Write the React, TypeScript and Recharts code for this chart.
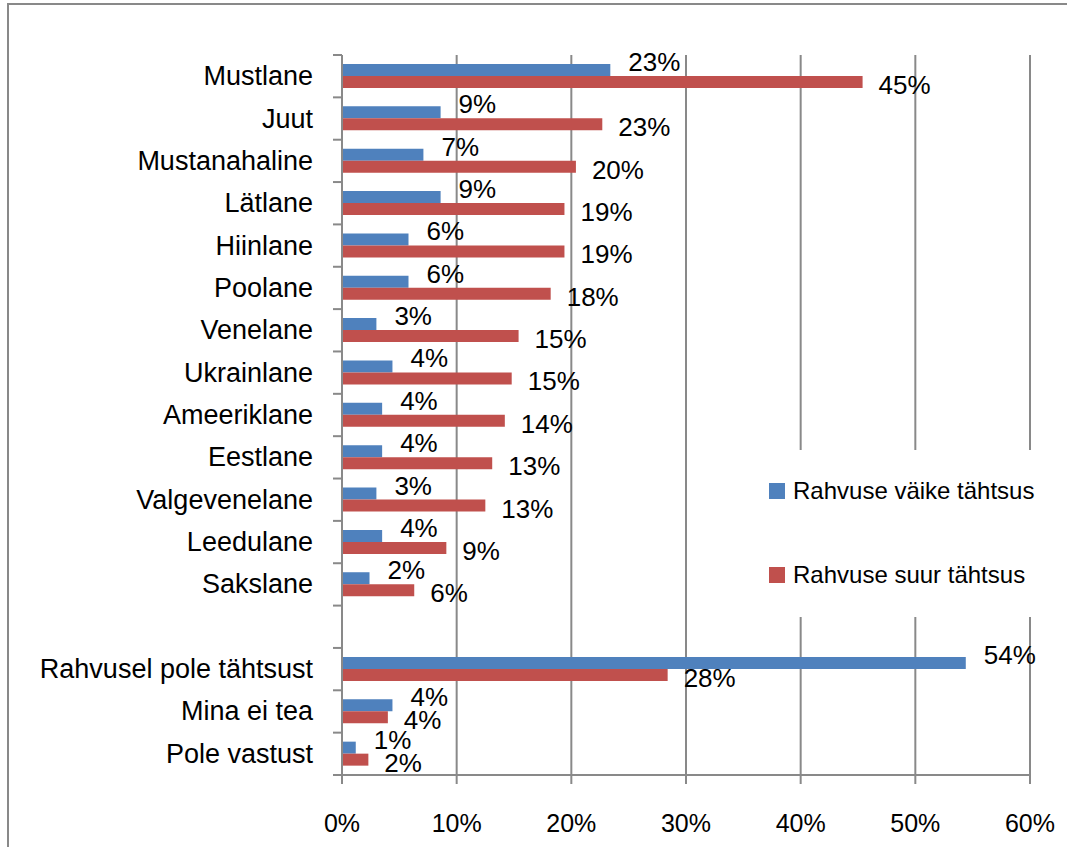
import React from 'react';
import {
  BarChart,
  Bar,
  XAxis,
  YAxis,
  CartesianGrid,
  Legend,
  LabelList,
} from 'recharts';

// categories (blank entry is the gap row before the last group)
const categories = [
  'Mustlane',
  'Juut',
  'Mustanahaline',
  'Lätlane',
  'Hiinlane',
  'Poolane',
  'Venelane',
  'Ukrainlane',
  'Ameeriklane',
  'Eestlane',
  'Valgevenelane',
  'Leedulane',
  'Sakslane',
  '',
  'Rahvusel pole tähtsust',
  'Mina ei tea',
  'Pole vastust',
];

// percentages
const smallImportance = [23.4, 8.6, 7.1, 8.6, 5.8, 5.8, 3.0, 4.4, 3.5, 3.5, 3.0, 3.5, 2.4, null, 54.4, 4.4, 1.2];
const largeImportance = [45.4, 22.7, 20.4, 19.4, 19.4, 18.2, 15.4, 14.8, 14.2, 13.1, 12.5, 9.1, 6.3, null, 28.4, 4.0, 2.3];

const xTicks = [0, 10, 20, 30, 40, 50, 60];

const SERIES_SMALL = 'Rahvuse väike tähtsus';
const SERIES_LARGE = 'Rahvuse suur tähtsus';
const legendOrder = [SERIES_SMALL, SERIES_LARGE];

const data = categories.map((name, i) => ({
  name,
  small: smallImportance[i],
  large: largeImportance[i],
}));

// layout
const W = 1067;
const H = 847;
const AXIS_X = 342;
const PLOT_TOP = 55;
const PLOT_BOTTOM = 775;
const BAND = (PLOT_BOTTOM - PLOT_TOP) / categories.length;
const GRAY = '#898989';
const FONT = '"Liberation Sans", Arial, sans-serif';

const BLUE = '#4F81BD';
const RED = '#C0504D';

const CategoryTick = (props: any) => {
  const { y, payload, index } = props;
  const top = y - BAND / 2;
  const isLast = index === categories.length - 1;
  return (
    <g>
      <line x1={AXIS_X - 9} x2={AXIS_X} y1={top} y2={top} stroke={GRAY} strokeWidth={2} />
      {isLast && (
        <line x1={AXIS_X - 9} x2={AXIS_X} y1={top + BAND} y2={top + BAND} stroke={GRAY} strokeWidth={2} />
      )}
      <text
        x={313}
        y={y}
        textAnchor="end"
        dominantBaseline="central"
        fontSize={27}
        fill="#000"
        fontFamily={FONT}
      >
        {payload.value}
      </text>
    </g>
  );
};

const makeValueLabel = (dx: number, dy: number) => (props: any) => {
  const { x, y, width, height, value } = props;
  if (value === null || value === undefined) return null;
  return (
    <text
      x={x + width + dx}
      y={y + height / 2 + dy}
      dominantBaseline="central"
      fontSize={26}
      fill="#000"
      fontFamily={FONT}
    >
      {Math.round(value)}%
    </text>
  );
};

const LegendBox = (props: any) => {
  const items = [...(props.payload || [])].sort(
    (a: any, b: any) => legendOrder.indexOf(a.value) - legendOrder.indexOf(b.value)
  );
  return (
    <div style={{ position: 'relative', width: '100%', height: '100%' }}>
      {items.map((entry: any, i: number) => (
        <div
          key={entry.value}
          style={{
            position: 'absolute',
            left: 14,
            top: 41 + i * 84 - 16,
            height: 32,
            display: 'flex',
            alignItems: 'center',
            whiteSpace: 'nowrap',
          }}
        >
          <span style={{ display: 'inline-block', width: 16, height: 16, background: entry.color, marginRight: 8 }} />
          <span style={{ fontSize: 24, fontFamily: FONT, color: '#000' }}>{entry.value}</span>
        </div>
      ))}
    </div>
  );
};

export default function App() {
  return (
    <div
      style={{
        position: 'absolute',
        left: 0,
        top: 0,
        width: W,
        height: H,
        overflow: 'hidden',
        background: '#fff',
        fontFamily: FONT,
      }}
    >
      <div
        style={{
          position: 'absolute',
          left: 7,
          top: 3,
          width: W + 40,
          height: H + 40,
          border: `2px solid ${GRAY}`,
        }}
      />
      <div style={{ position: 'absolute', left: 0, top: 0 }}>
        <BarChart
          width={W}
          height={H}
          data={data}
          layout="vertical"
          margin={{ top: PLOT_TOP, right: W - 1030, bottom: 0, left: 0 }}
          barGap={0}
          barSize={12}
        >
          <CartesianGrid horizontal={false} stroke={GRAY} strokeWidth={2} />
          <XAxis
            type="number"
            domain={[0, 60]}
            ticks={xTicks}
            interval={0}
            height={H - PLOT_BOTTOM}
            tickFormatter={(v: number) => `${v}%`}
            axisLine={{ stroke: GRAY, strokeWidth: 2 }}
            tickLine={{ stroke: GRAY, strokeWidth: 2 }}
            tickSize={9}
            tickMargin={30}
            tick={{ fill: '#000', fontSize: 25, fontFamily: FONT }}
          />
          <YAxis
            type="category"
            dataKey="name"
            width={AXIS_X}
            interval={0}
            axisLine={{ stroke: GRAY, strokeWidth: 2 }}
            tickLine={false}
            tick={<CategoryTick />}
          />
          <Legend
            layout="vertical"
            align="center"
            verticalAlign="middle"
            content={<LegendBox />}
            wrapperStyle={{ left: 755, top: 450, width: 300, height: 167, background: '#fff' }}
          />
          <Bar dataKey="small" name={SERIES_SMALL} fill={BLUE} isAnimationActive={false}>
            <LabelList dataKey="small" content={makeValueLabel(18, -8)} />
          </Bar>
          <Bar dataKey="large" name={SERIES_LARGE} fill={RED} isAnimationActive={false}>
            <LabelList dataKey="large" content={makeValueLabel(16, 3)} />
          </Bar>
        </BarChart>
      </div>
    </div>
  );
}
